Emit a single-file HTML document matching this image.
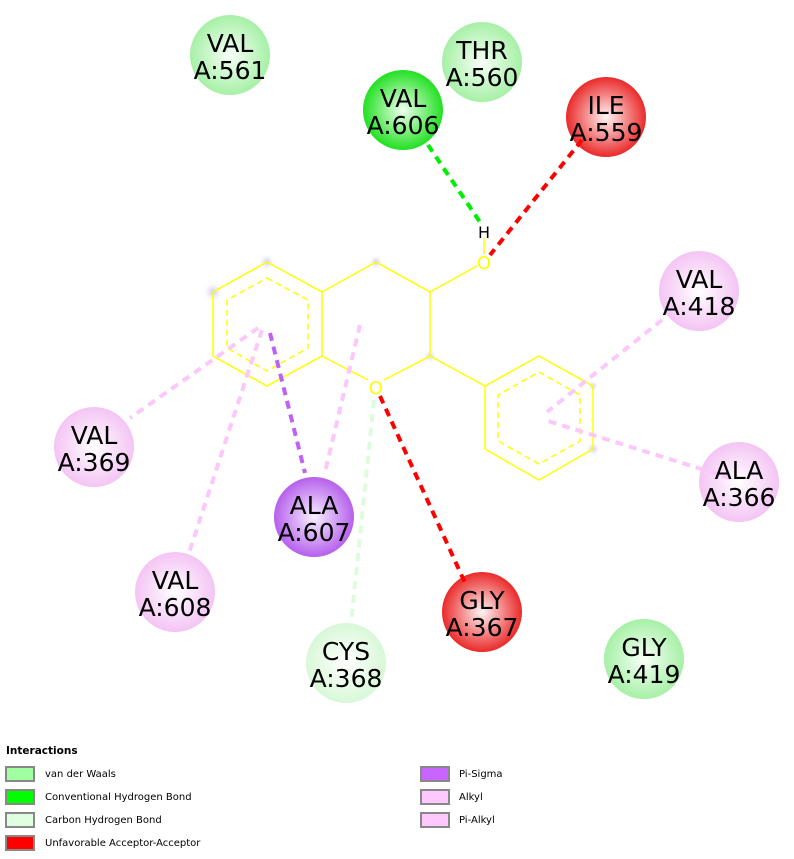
<!DOCTYPE html>
<html><head><meta charset="utf-8"><style>
body{margin:0;background:#fff;width:794px;height:855px;overflow:hidden;font-family:"DejaVu Sans","Liberation Sans",sans-serif}
</style></head><body>
<svg width="794" height="855" xmlns="http://www.w3.org/2000/svg">
<defs>
<radialGradient id="gv" cx="50%" cy="50%" r="50%"><stop offset="0" stop-color="#f8fff8"/><stop offset="1" stop-color="#a6f0a6"/></radialGradient>
<radialGradient id="gh" cx="50%" cy="50%" r="50%"><stop offset="0" stop-color="#f0fff0"/><stop offset="1" stop-color="#22e022"/></radialGradient>
<radialGradient id="gc" cx="50%" cy="50%" r="50%"><stop offset="0" stop-color="#ffffff"/><stop offset="1" stop-color="#d8f8d8"/></radialGradient>
<radialGradient id="gr" cx="50%" cy="50%" r="50%"><stop offset="0" stop-color="#fff4f4"/><stop offset="1" stop-color="#ea2a2a"/></radialGradient>
<radialGradient id="gp" cx="50%" cy="50%" r="50%"><stop offset="0" stop-color="#ffffff"/><stop offset="1" stop-color="#f4c4f4"/></radialGradient>
<radialGradient id="gs" cx="50%" cy="50%" r="50%"><stop offset="0" stop-color="#f8f0ff"/><stop offset="1" stop-color="#b660ec"/></radialGradient>
<radialGradient id="gb" cx="50%" cy="50%" r="50%"><stop offset="0" stop-color="#c8c8ff"/><stop offset="1" stop-color="#ffffff" stop-opacity="0"/></radialGradient>
</defs>
<g>
<circle cx="230" cy="55" r="40" fill="url(#gv)"/>
<circle cx="482" cy="62" r="40" fill="url(#gv)"/>
<circle cx="403" cy="110" r="40" fill="url(#gh)"/>
<circle cx="606" cy="117" r="40" fill="url(#gr)"/>
<circle cx="699" cy="291" r="40" fill="url(#gp)"/>
<circle cx="94" cy="447" r="40" fill="url(#gp)"/>
<circle cx="739" cy="482" r="40" fill="url(#gp)"/>
<circle cx="314" cy="517" r="40" fill="url(#gs)"/>
<circle cx="175" cy="592" r="40" fill="url(#gp)"/>
<circle cx="482" cy="612" r="40" fill="url(#gr)"/>
<circle cx="346" cy="663" r="40" fill="url(#gc)"/>
<circle cx="644" cy="659" r="40" fill="url(#gv)"/>
</g>
<g fill="url(#gb)">
<circle cx="267" cy="262" r="9"/><circle cx="213" cy="292" r="11"/><circle cx="376" cy="262" r="8"/><circle cx="430" cy="356" r="7"/><circle cx="593" cy="386" r="6"/><circle cx="593" cy="449" r="8"/>
</g>
<g fill="none" stroke="#ffff00" stroke-width="1.5">
<polygon points="267,262 322,292 322,356 267,386 213,356 213,292"/>
<polyline points="322,292 376,262 430,292 430,356 384,380"/>
<line x1="322" y1="356" x2="368" y2="380"/>
<line x1="430" y1="292" x2="477" y2="266"/>
<line x1="484" y1="254" x2="484" y2="238"/>
<line x1="430" y1="356" x2="485" y2="386"/>
<polygon points="539,356 593,386 593,449 539,480 485,449 485,386"/>
<polygon points="267,278 308,300 308,348 267,371 227,348 227,300" stroke-dasharray="6,4"/>
<polygon points="539,372 580,395 580,441 539,464 498,441 498,395" stroke-dasharray="6,4"/>
</g>
<text x="376" y="394" font-size="18" text-anchor="middle" fill="#ffff00">O</text>
<text x="484" y="269" font-size="18" text-anchor="middle" fill="#ffff00">O</text>
<text x="484" y="238" font-size="16" text-anchor="middle" fill="#000">H</text>
<g fill="none" stroke-width="4" stroke-dasharray="8,6">
<line x1="428" y1="145" x2="482" y2="225" stroke="#00ee00"/>
<line x1="582" y1="140" x2="490" y2="255" stroke="#ff0000"/>
<line x1="380" y1="396" x2="466" y2="585" stroke="#ff0000"/>
<line x1="374" y1="400" x2="351" y2="623" stroke="#dcfcdc"/>
<line x1="270" y1="333" x2="305" y2="473" stroke="#c060f4"/>
<line x1="360" y1="325" x2="325" y2="472" stroke="#fcc8fc"/>
<line x1="262" y1="330" x2="189" y2="553" stroke="#fcc8fc"/>
<line x1="258" y1="328" x2="130" y2="418" stroke="#fcc8fc"/>
<line x1="662" y1="320" x2="547" y2="412" stroke="#fcc8fc"/>
<line x1="730" y1="478" x2="548" y2="421" stroke="#fcc8fc"/>
</g>
<g font-size="25" text-anchor="middle" fill="#000">
<text x="230" y="52">VAL</text><text x="230" y="79">A:561</text>
<text x="482" y="59">THR</text><text x="482" y="86">A:560</text>
<text x="403" y="107">VAL</text><text x="403" y="134">A:606</text>
<text x="606" y="114">ILE</text><text x="606" y="141">A:559</text>
<text x="699" y="288">VAL</text><text x="699" y="315">A:418</text>
<text x="94" y="444">VAL</text><text x="94" y="471">A:369</text>
<text x="739" y="479">ALA</text><text x="739" y="506">A:366</text>
<text x="314" y="514">ALA</text><text x="314" y="541">A:607</text>
<text x="175" y="589">VAL</text><text x="175" y="616">A:608</text>
<text x="482" y="609">GLY</text><text x="482" y="636">A:367</text>
<text x="346" y="660">CYS</text><text x="346" y="687">A:368</text>
<text x="644" y="656">GLY</text><text x="644" y="683">A:419</text>
</g>
<g font-family="DejaVu Sans, sans-serif" font-size="10" fill="#000">
<text x="6" y="754" font-weight="bold" font-size="10.5">Interactions</text>
<g stroke="#888" stroke-width="2">
<rect x="6" y="767" width="28" height="14" fill="#a0ffa0"/>
<rect x="6" y="790" width="28" height="14" fill="#00ff00"/>
<rect x="6" y="813" width="28" height="14" fill="#e0ffe0"/>
<rect x="6" y="836" width="28" height="14" fill="#ff0000"/>
<rect x="421" y="767" width="28" height="14" fill="#c864ff"/>
<rect x="421" y="790" width="28" height="14" fill="#ffc8ff"/>
<rect x="421" y="813" width="28" height="14" fill="#ffc8ff"/>
</g>
<text x="45" y="777">van der Waals</text>
<text x="45" y="800">Conventional Hydrogen Bond</text>
<text x="45" y="823">Carbon Hydrogen Bond</text>
<text x="45" y="846">Unfavorable Acceptor-Acceptor</text>
<text x="459" y="777">Pi-Sigma</text>
<text x="459" y="800">Alkyl</text>
<text x="459" y="823">Pi-Alkyl</text>
</g>
</svg>
</body></html>
